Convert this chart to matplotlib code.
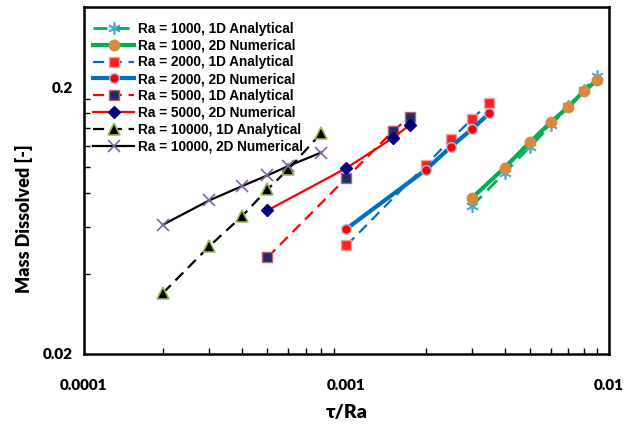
import matplotlib
matplotlib.use("Agg")
import matplotlib.pyplot as plt
from matplotlib.ticker import FixedLocator, NullFormatter, LogLocator

# tau/Ra values
x_ra1000 = [0.003, 0.004, 0.005, 0.006, 0.007, 0.008, 0.009]
x_ra2000 = [0.001, 0.002, 0.0025, 0.003, 0.0035]
x_ra5000 = [0.0005, 0.001, 0.0015, 0.00175]
x_ra10000 = [0.0002, 0.0003, 0.0004, 0.0005, 0.0006, 0.0008]

# mass dissolved
ra1000_1d = [0.0716, 0.0956, 0.1197, 0.1440, 0.1701, 0.1950, 0.2206]
ra1000_2d = [0.0767, 0.0998, 0.1245, 0.1477, 0.1690, 0.1928, 0.2125]
ra2000_1d = [0.0510, 0.1018, 0.1275, 0.1516, 0.1751]
ra2000_2d = [0.0589, 0.0978, 0.1197, 0.1390, 0.1597]
ra5000_1d = [0.0460, 0.0915, 0.1366, 0.1552]
ra5000_2d = [0.0690, 0.0995, 0.1289, 0.1448]
ra10000_1d = [0.0338, 0.0506, 0.0656, 0.0827, 0.0984, 0.1343]
ra10000_2d = [0.0610, 0.0752, 0.0851, 0.0934, 0.1012, 0.1137]

labels = ["Ra = 1000, 1D Analytical", "Ra = 1000, 2D Numerical",
          "Ra = 2000, 1D Analytical", "Ra = 2000, 2D Numerical",
          "Ra = 5000, 1D Analytical", "Ra = 5000, 2D Numerical",
          "Ra = 10000, 1D Analytical", "Ra = 10000, 2D Numerical"]

fig = plt.figure(figsize=(6.26, 4.32), dpi=100)
ax = fig.add_axes([0.134, 0.181, 0.839, 0.803])

dash = (0, (5, 3))
ax.plot(x_ra1000, ra1000_1d, color="#00B050", ls=dash, lw=2, marker=(6, 2, 0),
        ms=9, mec="#4BACC6", mew=1.2, label=labels[0], zorder=3)
ax.plot(x_ra1000, ra1000_2d, color="#00B050", ls="-", lw=3, marker="o",
        ms=7.5, mfc="#D9883F", mec="#D9883F", label=labels[1], zorder=4)
ax.plot(x_ra2000, ra2000_1d, color="#0070C0", ls=dash, lw=1.6, marker="s",
        ms=6.5, mfc="#FF2020", mec="#F4A0A0", mew=1, label=labels[2], zorder=3)
ax.plot(x_ra2000, ra2000_2d, color="#0070C0", ls="-", lw=3, marker="o",
        ms=7, mfc="#FF0000", mec="#A8C0E0", mew=1, label=labels[3], zorder=4)
ax.plot(x_ra5000, ra5000_1d, color="#FF0000", ls=dash, lw=1.6, marker="s",
        ms=6.5, mfc="#1F2F5F", mec="#C06070", mew=1, label=labels[4], zorder=3)
ax.plot(x_ra5000, ra5000_2d, color="#FF0000", ls="-", lw=1.6, marker="D",
        ms=6, mfc="#000080", mec="#000080", label=labels[5], zorder=4)
ax.plot(x_ra10000, ra10000_1d, color="black", ls=dash, lw=1.6, marker="^",
        ms=9, mfc="black", mec="#9BBB59", mew=1.2, label=labels[6], zorder=3)
ax.plot(x_ra10000, ra10000_2d, color="black", ls="-", lw=1.6, marker="x",
        ms=9, mec="#8064A2", mew=1.2, label=labels[7], zorder=4)

ax.set_xscale("log")
ax.set_yscale("log")
ax.set_xlim(1e-4, 1e-2)
ax.set_ylim(0.02, 0.4)

ax.xaxis.set_major_locator(FixedLocator([1e-4, 1e-3, 1e-2]))
ax.xaxis.set_minor_locator(LogLocator(base=10, subs=range(2, 10)))
ax.xaxis.set_minor_formatter(NullFormatter())
ax.set_xticklabels(["0.0001", "0.001", "0.01"])
ax.yaxis.set_major_locator(FixedLocator([0.02, 0.2]))
ax.yaxis.set_minor_locator(FixedLocator([0.04, 0.06, 0.08, 0.10, 0.12, 0.14, 0.16, 0.18]))
ax.yaxis.set_minor_formatter(NullFormatter())
ax.set_yticklabels(["0.02", "0.2"])

ax.tick_params(which="major", length=0, pad=18, labelsize=11)
ax.tick_params(axis="y", which="major", pad=8)
ax.tick_params(which="minor", direction="in", length=4, width=1)
for lab in ax.get_xticklabels() + ax.get_yticklabels():
    lab.set_fontfamily("Lato")
    lab.set_fontweight("heavy")

for s in ax.spines.values():
    s.set_linewidth(1.8)

ax.set_xlabel("τ/Ra", fontsize=14, fontweight="heavy", family="Lato", labelpad=9)
ax.set_ylabel("Mass Dissolved [-]", fontsize=13, fontweight="heavy", family="Lato")
ax.yaxis.set_label_coords(-0.097, 0.39)

ax.legend(loc="upper left", frameon=False, prop={"family": "Liberation Sans", "weight": "bold", "size": 9.8},
          handlelength=3.0, handletextpad=0.3, labelspacing=0.21, borderaxespad=0.3,
          bbox_to_anchor=(0.0, 0.985))

fig.savefig("out.png", dpi=100)
